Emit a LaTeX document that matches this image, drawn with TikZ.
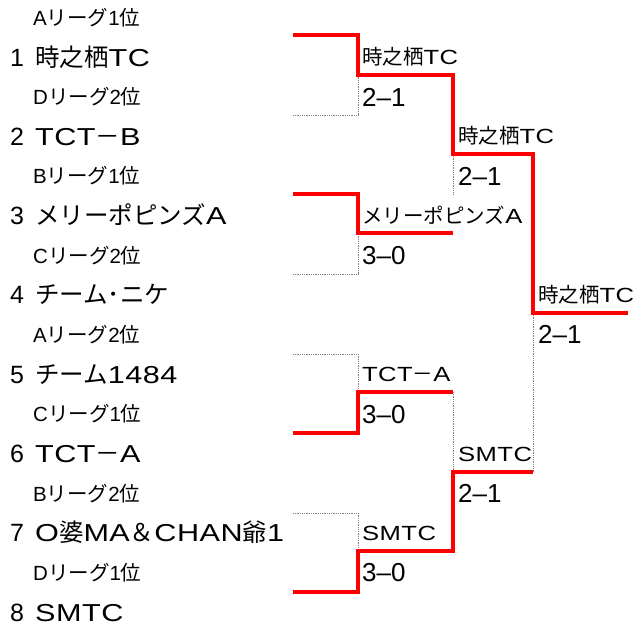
\documentclass[tikz,border=0pt]{standalone}
\usepackage{fontspec}
\newfontfamily\jpf{Noto Sans CJK JP}
\newfontfamily\laf[FakeStretch=1.25,LetterSpace=2]{Liberation Sans}
\newfontfamily\lan{Liberation Sans}
\newcommand\JP[1]{{\jpf #1}}
\newcommand\LA[1]{{\laf #1}}
\newcommand\LN[1]{{\lan #1}}
\newcommand\num[1]{\makebox[25pt][l]{\lan\fontsize{25}{25}\selectfont #1}}
\begin{document}
\begin{tikzpicture}[x=1pt,y=-1pt,
  team/.style={anchor=base west, inner sep=0pt, font=\fontsize{24.5}{24}\selectfont},
  league/.style={anchor=base west, inner sep=0pt, font=\fontsize{20.5}{20}\selectfont},
  win/.style={anchor=base west, inner sep=0pt, font=\fontsize{20.5}{20}\selectfont},
  score/.style={anchor=base west, inner sep=0pt, font=\fontsize{26}{26}\selectfont\lan},
  redline/.style={draw=red, line width=3.5pt, line join=miter},
  grayline/.style={draw=gray, line width=0.8pt, densely dotted}]
\useasboundingbox (0,0) rectangle (642,630);

% left column: league labels
\node[league] (g1) at (33,25.2)  {\LN{A}\JP{リーグ}\LN{1}\JP{位}};
\node[league] (g2) at (33,104.5) {\LN{D}\JP{リーグ}\LN{2}\JP{位}};
\node[league] (g3) at (33,183.8) {\LN{B}\JP{リーグ}\LN{1}\JP{位}};
\node[league] (g4) at (33,263.1) {\LN{C}\JP{リーグ}\LN{2}\JP{位}};
\node[league] (g5) at (33,342.4) {\LN{A}\JP{リーグ}\LN{2}\JP{位}};
\node[league] (g6) at (33,421.7) {\LN{C}\JP{リーグ}\LN{1}\JP{位}};
\node[league] (g7) at (33,501.0) {\LN{B}\JP{リーグ}\LN{2}\JP{位}};
\node[league] (g8) at (33,580.3) {\LN{D}\JP{リーグ}\LN{1}\JP{位}};

% left column: teams
\node[team] (t1) at (10,66.0)  {\num{1}\JP{時之栖}\LA{TC}};
\node[team] (t2) at (10,145.3) {\num{2}\LA{TCT}\JP{－}\LA{B}};
\node[team] (t3) at (10,224.6) {\num{3}\JP{メリーポピンズ}\LA{A}};
\node[team] (t4) at (10,303.9) {\num{4}\JP{チーム･ニケ}};
\node[team] (t5) at (10,383.2) {\num{5}\JP{チーム}\LA{1484}};
\node[team] (t6) at (10,462.5) {\num{6}\LA{TCT}\JP{－}\LA{A}};
\node[team] (t7) at (10,541.8) {\num{7}\LA{O}\JP{婆}\LA{MA}\JP{＆}\LA{CHAN}\JP{爺}\LA{1}};
\node[team] (t8) at (10,621.1) {\num{8}\LA{SMTC}};

% bracket points
\coordinate (A1) at (293,35);  \coordinate (A2) at (358,35);
\coordinate (A3) at (358,75);  \coordinate (A4) at (453,75);
\coordinate (A5) at (293,115); \coordinate (A6) at (358,115);
\coordinate (B1) at (293,194); \coordinate (B2) at (358,194);
\coordinate (B3) at (358,233); \coordinate (B4) at (453,233);
\coordinate (B5) at (293,274); \coordinate (B6) at (358,274);
\coordinate (P1) at (453,154); \coordinate (P2) at (533,154);
\coordinate (P3) at (453,194);
\coordinate (C1) at (293,354); \coordinate (C2) at (358,354);
\coordinate (C3) at (358,392); \coordinate (C4) at (453,392);
\coordinate (C5) at (293,433); \coordinate (C6) at (358,433);
\coordinate (D1) at (293,513); \coordinate (D2) at (358,513);
\coordinate (D3) at (358,551); \coordinate (D4) at (453,551);
\coordinate (D5) at (293,592); \coordinate (D6) at (358,592);
\coordinate (Q1) at (453,472); \coordinate (Q2) at (533,472);
\coordinate (F1) at (533,313); \coordinate (F2) at (628,313);

% losing paths (gray)
\draw[grayline] (A5) -- (A6) -- (A3);
\draw[grayline] (B5) -- (B6) -- (B3);
\draw[grayline] (P1) -- (P3);
\draw[grayline] (C1) -- (C2) -- (C3);
\draw[grayline] (D1) -- (D2) -- (D3);
\draw[grayline] (C4) -- (Q1);
\draw[grayline] (F1) -- (Q2);

% winning paths (red)
\draw[redline] (A1) -- (A2) -- (A3) -- (A4) -- (P1) -- (P2) -- (F1) -- (F2);
\draw[redline] (B1) -- (B2) -- (B3) -- (B4);
\draw[redline] (C5) -- (C6) -- (C3) -- (C4);
\draw[redline] (D5) -- (D6) -- (D3) -- (D4) -- (Q1) -- (Q2);

% winners and scores
\node[win] (w1) at (362,64.5)  {\JP{時之栖}\LA{TC}};
\node[score] (s1) at (362,106.0) {2–1};
\node[win] (w2) at (362,223.1) {\JP{メリーポピンズ}\LA{A}};
\node[score] (s2) at (362,264.6) {3–0};
\node[win] (w3) at (362,381.7) {\LA{TCT}\JP{－}\LA{A}};
\node[score] (s3) at (362,423.2) {3–0};
\node[win] (w4) at (362,540.3) {\LA{SMTC}};
\node[score] (s4) at (362,581.8) {3–0};
\node[win] (w5) at (458,143.8) {\JP{時之栖}\LA{TC}};
\node[score] (s5) at (458,185.3) {2–1};
\node[win] (w6) at (458,461.0) {\LA{SMTC}};
\node[score] (s6) at (458,502.5) {2–1};
\node[win] (w7) at (538,302.4) {\JP{時之栖}\LA{TC}};
\node[score] (s7) at (538,343.9) {2–1};
\end{tikzpicture}
\end{document}
